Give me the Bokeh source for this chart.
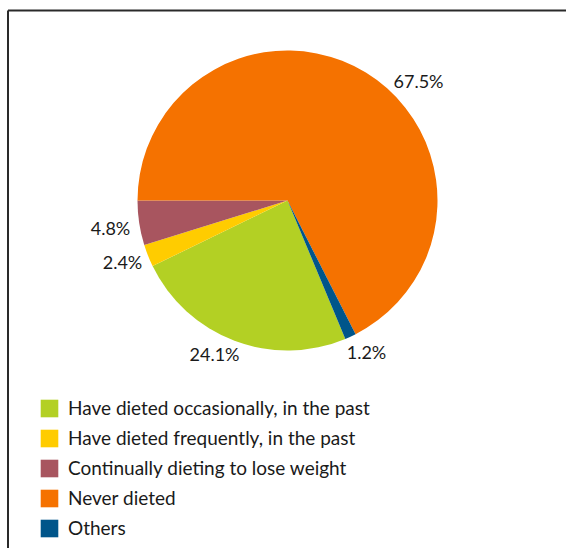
import math
from bokeh.plotting import figure
from bokeh.models import Range1d, Legend, LegendItem
from bokeh.core.properties import value
from bokeh.embed import file_html
from bokeh.resources import INLINE

# Data (legend order)
categories = ["Have dieted occasionally, in the past",
              "Have dieted frequently, in the past",
              "Continually dieting to lose weight",
              "Never dieted",
              "Others"]
percents = [24.1, 2.4, 4.8, 67.5, 1.2]
labels = ["24.1%", "2.4%", "4.8%", "67.5%", "1.2%"]
colors = ["#b3d024", "#ffcc00", "#a8555f", "#f57200", "#00558a"]

# order of slices counter-clockwise starting at 180 degrees
pie_order = [2, 1, 0, 4, 3]

W, H = 566, 548
p = figure(width=W, height=H, output_backend="svg", toolbar_location=None,
           x_range=Range1d(0, W), y_range=Range1d(0, H), min_border=0)
p.axis.visible = False
p.grid.visible = False
p.outline_line_color = None
p.background_fill_color = "white"

cx, cy, r = 287, H - 200, 150

total = sum(percents)
start = math.pi
starts = [0.0] * len(percents)
ends = [0.0] * len(percents)
for i in pie_order:
    ang = percents[i] / total * 2 * math.pi
    starts[i] = start
    ends[i] = start + ang
    start += ang

renderers = []
for i in range(len(categories)):
    rr = p.wedge(x=cx, y=cy, radius=r, start_angle=starts[i], end_angle=ends[i],
                 fill_color=colors[i], line_color=None)
    renderers.append(rr)

# percentage label placement (pixels)
label_pos_px = [(214, 353), (122, 261), (110, 227), (418, 80), (366, 351)]
p.text(x=[q[0] for q in label_pos_px], y=[H - q[1] for q in label_pos_px], text=labels,
       text_font=value("Lato"), text_font_size="18px", text_color="#1a1a1a",
       text_align="center", text_baseline="middle")

# frame lines (top and left)
p.line(x=[7.5, W + 5], y=[H - 10, H - 10], line_color="#2a2a2a", line_width=2)
p.line(x=[7.5, 7.5], y=[H - 10, -5], line_color="#2a2a2a", line_width=2)

legend = Legend(items=[LegendItem(label=categories[i], renderers=[renderers[i]]) for i in range(len(categories))],
                location=(38, 9), padding=0, margin=0, spacing=7,
                glyph_width=22, glyph_height=22, label_standoff=8, label_height=20,
                label_text_font="Lato", label_text_font_size="19px", label_text_color="#1a1a1a",
                border_line_color=None, background_fill_alpha=0)
p.add_layout(legend)

open("out.html", "w").write(file_html(p, INLINE))
